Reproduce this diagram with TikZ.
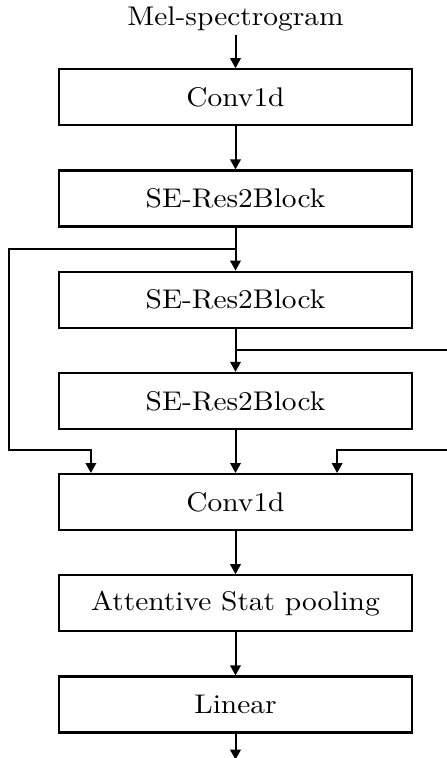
\documentclass[tikz,border=0pt]{standalone}
\usepackage{fontspec}
\usepackage{tikz}
\usetikzlibrary{arrows.meta,positioning,calc}
\newfontfamily\widefont{lmroman10-regular.otf}[FakeStretch=1.09]
\tikzset{
    ampersand replacement=\&,
    >={Triangle[length=10pt,width=10.5pt]},
    block/.style={draw, line width=2.2pt, minimum width=353pt, minimum height=56pt,
        inner sep=0pt, font=\widefont\fontsize{27}{30}\selectfont},
    flow/.style={->, line width=2pt},
    skip/.style={line width=2pt},
}

\begin{document}
\begin{tikzpicture}[x=1pt,y=1pt]
            \useasboundingbox (0,0) rectangle (447,-758);

            \matrix[row sep=43pt, inner sep=0pt, anchor=north] at (235.5,-68) {
                \node[block] (conv1) {Conv1d} ; \\
                \node[block] (se1) {SE-Res2Block} ; \\
                \node[block] (se2) {SE-Res2Block} ; \\
                \node[block] (se3) {SE-Res2Block} ; \\
                \node[block] (conv2) {Conv1d} ; \\
                \node[block] (pool) {Attentive Stat pooling} ; \\
                \node[block] (lin) {Linear} ; \\
            } ;

            \node[anchor=base, inner sep=4.5pt, font=\widefont\fontsize{27}{30}\selectfont] (mel) at (235.5,-25) {Mel-spectrogram} ;
            \coordinate[below=26pt of lin.south] (out) ;

            % junctions between the blocks
            \coordinate (j1) at ($(se1.south)!0.5!(se2.north)$) ;
            \coordinate (j2) at ($(se2.south)!0.5!(se3.north)$) ;
            \coordinate (j3) at ($(se3.south)!0.46!(conv2.north)$) ;
            \coordinate (lft) at (9,0) ;
            \coordinate (rgt) at (447,0) ;
            \coordinate (in1) at ($(conv2.north west)+(33,0)$) ;
            \coordinate (in2) at ($(conv2.north east)+(-76,0)$) ;

            \draw[flow] (mel) -- (conv1) ;
            \draw[flow] (conv1) -- (se1) ;
            \draw[flow] (se1) -- (se2) ;
            \draw[flow] (se2) -- (se3) ;
            \draw[flow] (se3) -- (conv2) ;
            \draw[flow] (conv2) -- (pool) ;
            \draw[flow] (pool) -- (lin) ;
            \draw[flow] (lin) -- (out) ;

            % skip connections
            \draw[flow] (j1) -- (j1 -| lft) -- (j3 -| lft) -- (j3 -| in1) -- (in1) ;
            \draw[skip] (j2) -- (j2 -| rgt) ;
            \draw[flow] (j3 -| rgt) -- (j3 -| in2) -- (in2) ;
        \end{tikzpicture}
\end{document}
